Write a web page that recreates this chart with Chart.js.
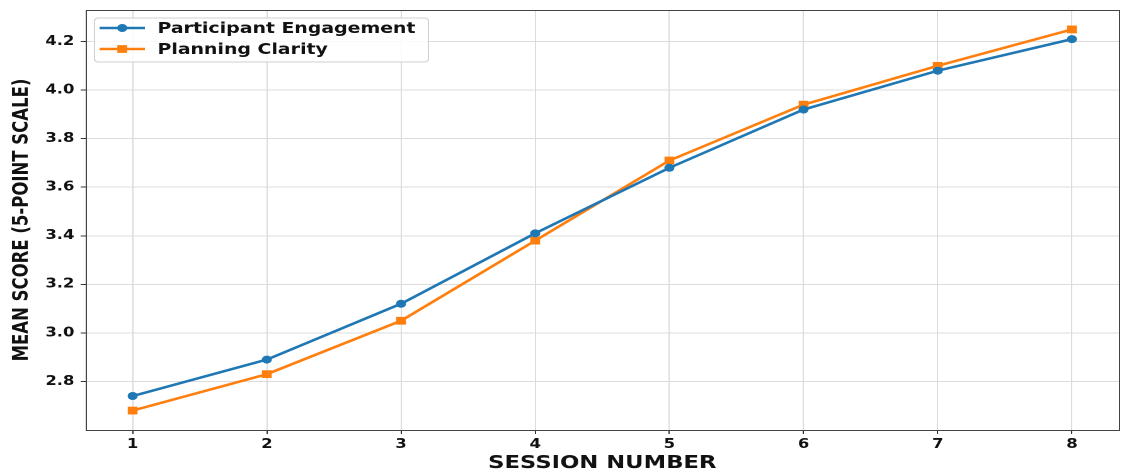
<!DOCTYPE html>
<html><head><meta charset="utf-8">
<script src="https://cdn.jsdelivr.net/npm/chart.js@4.4.0/dist/chart.umd.min.js"></script>
<style>
html,body{margin:0;padding:0;background:#fff;overflow:hidden;width:1134px;height:474px}
#wrap{width:900px;height:474px;transform:scaleX(1.26);transform-origin:0 0}
canvas{display:block}
</style></head><body>
<div id="wrap"><canvas id="c" width="900" height="474"></canvas></div>
<script>
const sessions = [1, 2, 3, 4, 5, 6, 7, 8];
const engagement = [2.74, 2.89, 3.12, 3.41, 3.68, 3.92, 4.08, 4.21];
const clarity = [2.68, 2.83, 3.05, 3.38, 3.71, 3.94, 4.10, 4.25];
const yTicks = [2.8, 3.0, 3.2, 3.4, 3.6, 3.8, 4.0, 4.2];
const xTicks = [1, 2, 3, 4, 5, 6, 7, 8];
const seriesNames = ['Participant Engagement', 'Planning Clarity'];
const xTitle = 'SESSION NUMBER';
const yTitle = 'MEAN SCORE (5-POINT SCALE)';

const BLUE = '#1f77b4', ORANGE = '#ff7f0e';
const FONT = '"DejaVu Sans", sans-serif';

const framePlugin = {
  id: 'frame',
  afterDatasetsDraw(chart) {
    const a = chart.chartArea, ctx = chart.ctx;
    ctx.save();
    ctx.strokeStyle = '#444';
    ctx.lineWidth = 1;
    ctx.strokeRect(Math.round(a.left) + 0.5, Math.round(a.top) + 0.5,
      Math.round(a.right - a.left), Math.round(a.bottom - a.top));
    ctx.restore();
  }
};

const legendPlugin = {
  id: 'mplLegend',
  afterDraw(chart) {
    const ctx = chart.ctx, a = chart.chartArea;
    const bx = a.left + 7, by = a.top + 8, bw = 265, bh = 44;
    ctx.save();
    ctx.beginPath();
    ctx.roundRect(bx, by, bw, bh, 3);
    ctx.fillStyle = 'rgba(255,255,255,0.85)';
    ctx.fill();
    ctx.strokeStyle = '#d0d0d0';
    ctx.lineWidth = 1;
    ctx.stroke();
    chart.data.datasets.forEach((ds, i) => {
      const cy = by + 10 + i * 21;
      const x0 = bx + 4, x1 = bx + 40, xm = (x0 + x1) / 2;
      ctx.strokeStyle = ds.borderColor;
      ctx.lineWidth = ds.borderWidth;
      ctx.beginPath(); ctx.moveTo(x0, cy); ctx.lineTo(x1, cy); ctx.stroke();
      ctx.fillStyle = ds.borderColor;
      if (ds.pointStyle === 'rect') {
        const s = ds.pointRadius * Math.SQRT1_2;
        ctx.fillRect(xm - s, cy - s, 2 * s, 2 * s);
      } else {
        ctx.beginPath(); ctx.arc(xm, cy, ds.pointRadius, 0, Math.PI * 2); ctx.fill();
      }
      ctx.fillStyle = '#111';
      ctx.font = 'bold 15px ' + FONT;
      ctx.textBaseline = 'middle';
      ctx.textAlign = 'left';
      ctx.fillText(ds.label, bx + 50, cy + 1);
    });
    ctx.restore();
  }
};

new Chart(document.getElementById('c'), {
  type: 'line',
  data: {
    datasets: [
      {
        label: seriesNames[0],
        data: sessions.map((s, i) => ({ x: s, y: engagement[i] })),
        borderColor: BLUE, backgroundColor: BLUE,
        borderWidth: 2.5, pointStyle: 'circle', pointRadius: 4,
        pointBorderWidth: 0, pointBackgroundColor: BLUE, tension: 0
      },
      {
        label: seriesNames[1],
        data: sessions.map((s, i) => ({ x: s, y: clarity[i] })),
        borderColor: ORANGE, backgroundColor: ORANGE,
        borderWidth: 2.5, pointStyle: 'rect', pointRadius: 5.5,
        pointBorderWidth: 0, pointBackgroundColor: ORANGE, tension: 0
      }
    ]
  },
  options: {
    responsive: false,
    animation: false,
    devicePixelRatio: 2,
    layout: { padding: { top: 10, right: 12, left: 0, bottom: 0 } },
    plugins: { legend: { display: false }, tooltip: { enabled: false } },
    scales: {
      x: {
        type: 'linear', min: 0.65, max: 8.35,
        afterBuildTicks: ax => { ax.ticks = xTicks.map(v => ({ value: v })); },
        afterFit: ax => { ax.height = 44; ax.paddingLeft = 0; ax.paddingRight = 0; },
        grid: { color: '#dcdcdc', lineWidth: 1, tickLength: 4, tickColor: '#333', drawTicks: true },
        border: { display: false },
        ticks: { color: '#111', padding: 3, font: { family: FONT, weight: 'bold', size: 13 }, maxRotation: 0 },
        title: { display: true, text: xTitle, color: '#111', font: { family: FONT, weight: 'bold', size: 18 }, padding: { top: 0, bottom: 0 } }
      },
      y: {
        type: 'linear', min: 2.6, max: 4.33,
        afterBuildTicks: ax => { ax.ticks = yTicks.map(v => ({ value: v })); },
        afterFit: ax => { ax.width = 68; ax.paddingTop = 0; ax.paddingBottom = 0; },
        grid: { color: '#dcdcdc', lineWidth: 1, tickLength: 4, tickColor: '#333', drawTicks: true },
        border: { display: false },
        ticks: { color: '#111', padding: 5, font: { family: FONT, weight: 'bold', size: 13 }, callback: v => v.toFixed(1) },
        title: { display: true, text: yTitle, color: '#111', font: { family: FONT, weight: 'bold', size: 16.5 }, padding: { top: 8, bottom: 0 } }
      }
    }
  },
  plugins: [framePlugin, legendPlugin]
});
</script>
</body></html>
